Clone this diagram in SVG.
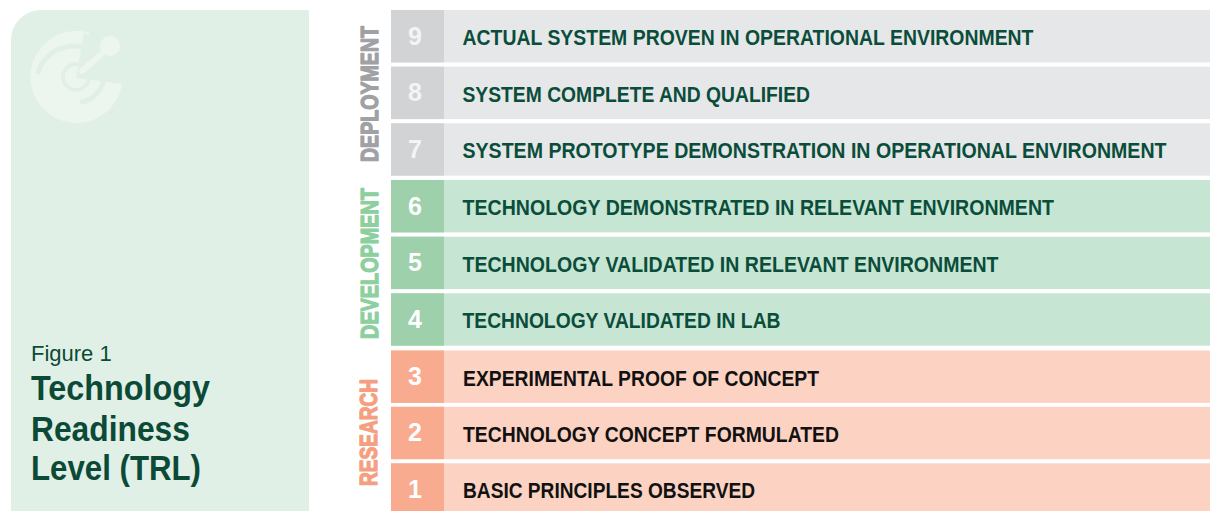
<svg xmlns="http://www.w3.org/2000/svg" width="1210" height="511" viewBox="0 0 1210 511">
<style>
.f{font-family:"Liberation Sans",Arial,sans-serif}
.lbl{font-family:"Liberation Sans",Arial,sans-serif;font-weight:bold;font-size:22px}
.num{font-family:"Liberation Sans",Arial,sans-serif;font-weight:bold;font-size:25px;text-anchor:middle}
.phase{font-family:"Liberation Sans",Arial,sans-serif;font-weight:bold;font-size:24.5px;text-anchor:middle;stroke-width:1.3;stroke-linejoin:round}
.dep .row{fill:#e6e7e8}.dep .cell{fill:#d1d3d4}.dep .lbl{fill:#0a4d3b}.dep .num{fill:#f4f4f4}
.dev .row{fill:#c7e5d3}.dev .cell{fill:#9dd0ab}.dev .lbl{fill:#0a4d3b}.dev .num{fill:#ffffff}
.res .row{fill:#fcd3c3}.res .cell{fill:#f8ab8f}.res .lbl{fill:#111111}.res .num{fill:#ffffff}
.logo{fill:#ecf6ef}
.groove{fill:none;stroke:#e1f0e6;stroke-width:5;stroke-linecap:round}
</style>
<rect width="1210" height="511" fill="#ffffff"/>
<g id="panel">
<path d="M11,520 V40 A30,30 0 0 1 41,10 H309 V520 Z" fill="#e1f0e6"/>
<g id="logo">
<path class="logo" d="M76,78 L84,32.5 A8,8 0 0 1 88,35 L90,33 A46,46 0 1 0 122,84 L76,78 Z"/>
<path class="groove" d="M38,72 A38,38 0 0 1 86,48"/>
<path class="groove" d="M82,102 A28,28 0 0 0 104,78"/>
<circle cx="76" cy="77" r="13" fill="none" stroke="#e1f0e6" stroke-width="4"/>
<line x1="82" y1="71" x2="105" y2="51" stroke="#ecf6ef" stroke-width="6" stroke-linecap="round"/>
<circle class="logo" cx="110" cy="46" r="10"/>
</g>
<text class="f" x="31" y="361" font-size="22" fill="#0b4a36">Figure 1</text>
<text class="f" transform="translate(31,400) scale(0.92,1)" font-size="35" font-weight="bold" fill="#0b4a36" textLength="194.6" lengthAdjust="spacingAndGlyphs">Technology</text>
<text class="f" transform="translate(31,441) scale(0.92,1)" font-size="35" font-weight="bold" fill="#0b4a36" textLength="172.8" lengthAdjust="spacingAndGlyphs">Readiness</text>
<text class="f" transform="translate(31,480) scale(0.92,1)" font-size="35" font-weight="bold" fill="#0b4a36" textLength="184.8" lengthAdjust="spacingAndGlyphs">Level (TRL)</text>
</g>
<g id="phase-labels">
<text class="phase" fill="#9fa1a4" stroke="#9fa1a4" transform="translate(378,94) rotate(-90) scale(0.82,1)" textLength="166" lengthAdjust="spacingAndGlyphs">DEPLOYMENT</text>
<text class="phase" fill="#8dcf9e" stroke="#8dcf9e" transform="translate(378,263.5) rotate(-90) scale(0.82,1)" textLength="184" lengthAdjust="spacingAndGlyphs">DEVELOPMENT</text>
<text class="phase" fill="#f4a080" stroke="#f4a080" transform="translate(377.3,432.5) rotate(-90) scale(0.82,1)" textLength="130.5" lengthAdjust="spacingAndGlyphs">RESEARCH</text>
</g>
<g id="trl9" class="dep">
<rect class="row" x="391" y="10" width="819" height="52.4"/><rect class="cell" x="391" y="10" width="53" height="52.4"/>
<text class="num" x="415" y="44.5">9</text>
<text class="lbl" transform="translate(462.5,45) scale(0.87,1)" textLength="656.3" lengthAdjust="spacingAndGlyphs">ACTUAL SYSTEM PROVEN IN OPERATIONAL ENVIRONMENT</text>
</g>
<g id="trl8" class="dep">
<rect class="row" x="391" y="66.7" width="819" height="52.4"/><rect class="cell" x="391" y="66.7" width="53" height="52.4"/>
<text class="num" x="415" y="101.2">8</text>
<text class="lbl" transform="translate(462.5,101.7) scale(0.87,1)" textLength="399.4" lengthAdjust="spacingAndGlyphs">SYSTEM COMPLETE AND QUALIFIED</text>
</g>
<g id="trl7" class="dep">
<rect class="row" x="391" y="123.3" width="819" height="52.4"/><rect class="cell" x="391" y="123.3" width="53" height="52.4"/>
<text class="num" x="415" y="157.8">7</text>
<text class="lbl" transform="translate(462.5,158.3) scale(0.87,1)" textLength="809.2" lengthAdjust="spacingAndGlyphs">SYSTEM PROTOTYPE DEMONSTRATION IN OPERATIONAL ENVIRONMENT</text>
</g>
<g id="trl6" class="dev">
<rect class="row" x="391" y="180" width="819" height="52.4"/><rect class="cell" x="391" y="180" width="53" height="52.4"/>
<text class="num" x="415" y="214.5">6</text>
<text class="lbl" transform="translate(462.5,215) scale(0.87,1)" textLength="679.9" lengthAdjust="spacingAndGlyphs">TECHNOLOGY DEMONSTRATED IN RELEVANT ENVIRONMENT</text>
</g>
<g id="trl5" class="dev">
<rect class="row" x="391" y="236.7" width="819" height="52.4"/><rect class="cell" x="391" y="236.7" width="53" height="52.4"/>
<text class="num" x="415" y="271.2">5</text>
<text class="lbl" transform="translate(462.5,271.7) scale(0.87,1)" textLength="616.1" lengthAdjust="spacingAndGlyphs">TECHNOLOGY VALIDATED IN RELEVANT ENVIRONMENT</text>
</g>
<g id="trl4" class="dev">
<rect class="row" x="391" y="293.3" width="819" height="52.4"/><rect class="cell" x="391" y="293.3" width="53" height="52.4"/>
<text class="num" x="415" y="327.8">4</text>
<text class="lbl" transform="translate(462.5,328.3) scale(0.87,1)" textLength="365.5" lengthAdjust="spacingAndGlyphs">TECHNOLOGY VALIDATED IN LAB</text>
</g>
<g id="trl3" class="res">
<rect class="row" x="391" y="350.5" width="819" height="52.4"/><rect class="cell" x="391" y="350.5" width="53" height="52.4"/>
<text class="num" x="415" y="385">3</text>
<text class="lbl" transform="translate(463,385.5) scale(0.87,1)" textLength="409.2" lengthAdjust="spacingAndGlyphs">EXPERIMENTAL PROOF OF CONCEPT</text>
</g>
<g id="trl2" class="res">
<rect class="row" x="391" y="406.8" width="819" height="52.4"/><rect class="cell" x="391" y="406.8" width="53" height="52.4"/>
<text class="num" x="415" y="441.3">2</text>
<text class="lbl" transform="translate(463,441.8) scale(0.87,1)" textLength="432.2" lengthAdjust="spacingAndGlyphs">TECHNOLOGY CONCEPT FORMULATED</text>
</g>
<g id="trl1" class="res">
<rect class="row" x="391" y="463.3" width="819" height="60"/><rect class="cell" x="391" y="463.3" width="53" height="60"/>
<text class="num" x="415" y="497.8">1</text>
<text class="lbl" transform="translate(463,498.3) scale(0.87,1)" textLength="335.6" lengthAdjust="spacingAndGlyphs">BASIC PRINCIPLES OBSERVED</text>
</g>
<g id="connectors"/>
</svg>
